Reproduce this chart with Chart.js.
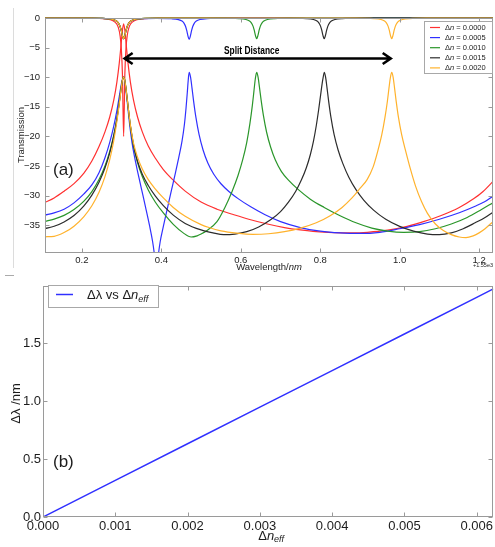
<!DOCTYPE html>
<html>
<head>
<meta charset="utf-8">
<script src="https://cdn.jsdelivr.net/npm/chart.js@4/dist/chart.umd.min.js"></script>
<style>
  html, body { margin: 0; padding: 0; background: #fff; }
  #wrap { position: relative; width: 495px; height: 547px; overflow: hidden; }
  #topChart { position: absolute; left: 0; top: 0; }
  #botChart { position: absolute; left: 0; top: 276px; }
  .edgeV { position: absolute; left: 13px; top: 8px; height: 260px; border-left: 1px solid #dcdcdc; }
  .edgeH { position: absolute; left: 5px; top: 275px; width: 9px; border-top: 1px solid #aaa; }
</style>
</head>
<body>
<div id="wrap">
  <div class="edgeV"></div>
  <div class="edgeH"></div>
  <canvas id="topChart" width="495" height="276"></canvas>
  <canvas id="botChart" width="495" height="271"></canvas>
</div>
<script>
// ---------- panel (a): transmission spectra, wavelength offset from 1550 nm ----------
const wlTicks = [0.2, 0.4, 0.6, 0.8, 1.0, 1.2];
const dBTicks = [0, -5, -10, -15, -20, -25, -30, -35];
const dnLabels = ['0.0000', '0.0005', '0.0010', '0.0015', '0.0020'];

// through port [wavelength, dB]
const thru0000 = [[0.107,-0.01],[0.215,-0.04],[0.260,-0.17],[0.278,-0.45],[0.287,-0.96],[0.2915,-1.58],[0.296,-2.97],[0.299,-5.03],[0.302,-9.6],[0.305,-20.0],[0.308,-9.6],[0.311,-5.03],[0.314,-2.97],[0.3185,-1.58],[0.323,-0.96],[0.332,-0.45],[0.350,-0.17],[0.395,-0.04],[1.235,-0.01]];
const thru0005 = [[0.107,-0.01],[0.215,-0.02],[0.260,-0.09],[0.278,-0.25],[0.287,-0.51],[0.2915,-0.81],[0.296,-1.41],[0.299,-2.10],[0.302,-2.99],[0.305,-3.50],[0.308,-2.99],[0.311,-2.10],[0.314,-1.41],[0.3185,-0.81],[0.323,-0.52],[0.332,-0.27],[0.350,-0.12],[0.3875,-0.06],[0.425,-0.12],[0.443,-0.27],[0.452,-0.52],[0.4565,-0.82],[0.461,-1.43],[0.464,-2.14],[0.467,-3.05],[0.470,-3.60],[0.473,-3.05],[0.476,-2.14],[0.479,-1.43],[0.4835,-0.82],[0.488,-0.52],[0.497,-0.26],[0.515,-0.09],[0.560,-0.02],[1.235,-0.01]];
const thru0010 = [[0.107,-0.01],[0.215,-0.02],[0.260,-0.09],[0.278,-0.25],[0.287,-0.51],[0.2915,-0.81],[0.296,-1.41],[0.299,-2.10],[0.302,-2.99],[0.305,-3.50],[0.308,-2.99],[0.311,-2.10],[0.314,-1.41],[0.3185,-0.81],[0.323,-0.51],[0.332,-0.25],[0.350,-0.09],[0.395,-0.02],[0.550,-0.02],[0.595,-0.09],[0.613,-0.25],[0.622,-0.51],[0.6265,-0.81],[0.631,-1.41],[0.634,-2.10],[0.637,-2.99],[0.640,-3.50],[0.643,-2.99],[0.646,-2.10],[0.649,-1.41],[0.6535,-0.81],[0.658,-0.51],[0.667,-0.25],[0.685,-0.09],[0.730,-0.02],[1.235,-0.01]];
const thru0015 = [[0.107,-0.01],[0.215,-0.02],[0.260,-0.09],[0.278,-0.25],[0.287,-0.51],[0.2915,-0.81],[0.296,-1.41],[0.299,-2.10],[0.302,-2.99],[0.305,-3.50],[0.308,-2.99],[0.311,-2.10],[0.314,-1.41],[0.3185,-0.81],[0.323,-0.51],[0.332,-0.25],[0.350,-0.09],[0.395,-0.02],[0.720,-0.02],[0.765,-0.09],[0.783,-0.25],[0.792,-0.51],[0.7965,-0.81],[0.801,-1.41],[0.804,-2.10],[0.807,-2.99],[0.810,-3.50],[0.813,-2.99],[0.816,-2.10],[0.819,-1.41],[0.8235,-0.81],[0.828,-0.51],[0.837,-0.25],[0.855,-0.09],[0.900,-0.02],[1.235,-0.01]];
const thru0020 = [[0.107,-0.01],[0.215,-0.02],[0.260,-0.09],[0.278,-0.25],[0.287,-0.51],[0.2915,-0.81],[0.296,-1.41],[0.299,-2.10],[0.302,-2.99],[0.305,-3.50],[0.308,-2.99],[0.311,-2.10],[0.314,-1.41],[0.3185,-0.81],[0.323,-0.51],[0.332,-0.25],[0.350,-0.09],[0.395,-0.02],[0.890,-0.02],[0.935,-0.09],[0.953,-0.25],[0.962,-0.51],[0.9665,-0.81],[0.971,-1.41],[0.974,-2.10],[0.977,-2.99],[0.980,-3.50],[0.983,-2.99],[0.986,-2.10],[0.989,-1.41],[0.9935,-0.81],[0.998,-0.51],[1.007,-0.25],[1.025,-0.09],[1.070,-0.02],[1.235,-0.01]];

// drop port [wavelength, dB]
const drop0000 = [[0.107,-31.17],[0.130,-30.40],[0.155,-29.26],[0.180,-27.98],[0.205,-26.20],[0.225,-24.16],[0.243,-21.72],[0.258,-19.24],[0.270,-16.73],[0.280,-13.92],[0.288,-10.82],[0.294,-7.62],[0.298,-4.90],[0.3015,-2.35],[0.305,-1.0],[0.3085,-2.35],[0.312,-4.90],[0.316,-7.62],[0.322,-10.82],[0.330,-13.92],[0.340,-16.73],[0.352,-19.24],[0.367,-21.62],[0.385,-23.7],[0.405,-25.6],[0.430,-27.4],[0.460,-29.25],[0.500,-31.1],[0.540,-32.3],[0.581,-33.2],[0.620,-34.0],[0.667,-34.8],[0.710,-35.4],[0.750,-35.8],[0.790,-36.1],[0.833,-36.25],[0.880,-36.3],[0.919,-36.2],[0.970,-35.85],[1.019,-35.2],[1.060,-34.4],[1.103,-33.4],[1.150,-32.0],[1.187,-30.5],[1.210,-29.3],[1.235,-27.6]];
const drop0005 = [[0.107,-33.30],[0.130,-32.93],[0.155,-32.30],[0.180,-31.23],[0.205,-29.71],[0.225,-28.20],[0.243,-26.13],[0.258,-23.61],[0.270,-21.01],[0.280,-18.31],[0.288,-15.65],[0.294,-13.26],[0.298,-11.62],[0.3015,-10.47],[0.305,-10.0],[0.3085,-10.9],[0.312,-12.9],[0.316,-15.4],[0.321,-18.5],[0.326,-21.0],[0.332,-23.3],[0.340,-25.9],[0.350,-28.9],[0.360,-31.9],[0.370,-35.0],[0.378,-37.8],[0.3835,-40.5],[0.3875,-43.0],[0.3915,-40.5],[0.397,-37.8],[0.405,-35.2],[0.415,-32.2],[0.425,-29.2],[0.435,-26.3],[0.444,-23.5],[0.452,-20.8],[0.458,-18.0],[0.462,-15.3],[0.4655,-12.4],[0.4675,-10.6],[0.470,-9.2],[0.4735,-10.0],[0.477,-11.77],[0.481,-13.95],[0.487,-16.8],[0.495,-19.72],[0.505,-22.3],[0.517,-24.5],[0.532,-26.4],[0.550,-28.0],[0.570,-29.3],[0.595,-30.6],[0.625,-31.9],[0.660,-33.2],[0.700,-34.4],[0.750,-35.4],[0.800,-36.0],[0.850,-36.3],[0.900,-36.4],[0.950,-36.2],[1.000,-35.6],[1.050,-34.9],[1.100,-34.0],[1.150,-32.9],[1.190,-31.8],[1.215,-31.0],[1.235,-30.1]];
const drop0010 = [[0.107,-34.36],[0.130,-33.98],[0.155,-33.35],[0.180,-32.37],[0.205,-30.94],[0.225,-29.32],[0.243,-27.29],[0.258,-25.0],[0.270,-22.54],[0.280,-19.85],[0.288,-16.99],[0.294,-14.27],[0.298,-12.25],[0.3015,-10.68],[0.305,-10.0],[0.3085,-10.78],[0.312,-12.55],[0.316,-14.87],[0.322,-18.29],[0.330,-21.65],[0.340,-24.44],[0.352,-26.79],[0.367,-29.04],[0.385,-31.12],[0.405,-32.94],[0.430,-34.87],[0.455,-36.3],[0.475,-37.0],[0.490,-36.8],[0.500,-36.5],[0.515,-35.9],[0.540,-34.4],[0.560,-32.0],[0.578,-29.3],[0.593,-26.6],[0.605,-23.9],[0.615,-21.0],[0.623,-17.8],[0.629,-14.8],[0.633,-12.4],[0.6365,-10.3],[0.640,-9.2],[0.6435,-10.0],[0.647,-11.7],[0.651,-13.8],[0.657,-16.5],[0.665,-19.3],[0.675,-21.8],[0.687,-24.0],[0.702,-25.9],[0.720,-27.4],[0.745,-29.0],[0.775,-30.6],[0.810,-32.0],[0.850,-33.4],[0.890,-34.6],[0.930,-35.5],[0.970,-36.0],[1.010,-36.2],[1.050,-36.1],[1.090,-35.6],[1.130,-34.8],[1.170,-33.7],[1.205,-32.4],[1.235,-31.2]];
const drop0015 = [[0.107,-35.56],[0.130,-35.18],[0.155,-34.45],[0.180,-33.37],[0.205,-31.74],[0.225,-29.92],[0.243,-27.74],[0.258,-25.35],[0.270,-22.79],[0.280,-20.0],[0.288,-17.09],[0.294,-14.27],[0.298,-12.25],[0.3015,-10.68],[0.305,-10.0],[0.3085,-10.78],[0.312,-12.55],[0.316,-14.87],[0.322,-18.19],[0.330,-21.5],[0.340,-24.2],[0.352,-26.4],[0.367,-28.3],[0.385,-30.1],[0.405,-31.7],[0.430,-33.3],[0.460,-34.7],[0.500,-35.8],[0.530,-36.3],[0.557,-36.6],[0.585,-36.5],[0.615,-36.1],[0.645,-35.3],[0.675,-34.1],[0.700,-32.7],[0.720,-31.1],[0.738,-29.3],[0.753,-27.3],[0.765,-25.3],[0.775,-23.1],[0.783,-20.8],[0.790,-18.2],[0.796,-15.5],[0.801,-13.0],[0.805,-11.0],[0.8075,-10.0],[0.810,-9.2],[0.8135,-10.0],[0.817,-11.77],[0.821,-13.95],[0.827,-16.8],[0.835,-19.72],[0.845,-22.3],[0.857,-24.6],[0.872,-26.9],[0.890,-29.0],[0.910,-30.8],[0.935,-32.5],[0.965,-34.0],[1.000,-35.2],[1.035,-36.0],[1.070,-36.5],[1.100,-36.6],[1.130,-36.3],[1.160,-35.6],[1.190,-34.6],[1.215,-33.7],[1.235,-32.8]];
const drop0020 = [[0.107,-36.96],[0.130,-36.88],[0.155,-36.25],[0.180,-35.17],[0.205,-33.54],[0.225,-31.72],[0.243,-29.44],[0.258,-26.8],[0.270,-23.94],[0.280,-20.75],[0.288,-17.49],[0.294,-14.52],[0.298,-12.35],[0.3015,-10.68],[0.305,-10.0],[0.3085,-10.78],[0.312,-12.55],[0.316,-14.87],[0.322,-18.1],[0.330,-21.2],[0.340,-23.5],[0.352,-25.5],[0.367,-27.3],[0.385,-28.9],[0.405,-30.4],[0.430,-32.0],[0.460,-33.5],[0.500,-34.9],[0.520,-35.4],[0.550,-35.95],[0.590,-36.35],[0.630,-36.55],[0.670,-36.45],[0.710,-36.1],[0.750,-35.5],[0.790,-34.6],[0.825,-33.4],[0.855,-32.0],[0.880,-30.4],[0.900,-28.8],[0.918,-27.3],[0.933,-25.2],[0.945,-22.45],[0.955,-19.72],[0.963,-16.8],[0.969,-14.1],[0.973,-11.9],[0.9765,-10.1],[0.980,-9.2],[0.9835,-10.0],[0.987,-11.77],[0.991,-13.95],[0.997,-16.8],[1.005,-19.72],[1.015,-22.45],[1.027,-25.5],[1.040,-28.4],[1.055,-31.0],[1.070,-33.0],[1.090,-34.8],[1.110,-35.9],[1.130,-36.6],[1.150,-37.0],[1.167,-37.1],[1.185,-36.8],[1.200,-36.3],[1.215,-35.6],[1.235,-34.4]];

// resonance split marked on panel (a)
const splitFrom = 0.305;
const splitTo = 0.980;
const splitLevel = -6.8;

// ---------- panel (b): resonance shift vs effective index change ----------
const dnEff = [0.0000, 0.0010, 0.0020, 0.0030, 0.0040, 0.0050, 0.0060, 0.00623];
const dLambda = [0.000, 0.316, 0.632, 0.948, 1.263, 1.579, 1.895, 1.968];
const dnEffTicks = [0.000, 0.001, 0.002, 0.003, 0.004, 0.005, 0.006];
const dLambdaTicks = [0.0, 0.5, 1.0, 1.5];

// ---------- styling ----------
const FAM = "'Liberation Sans', Arial, sans-serif";
const TXT = '#1c1c1c';
const SPINE = '#9a9a9a';
const seriesColors = ['#ff3030', '#3030ff', '#2a962a', '#2c2c2c', '#ffb22c'];

Chart.defaults.font.family = FAM;
Chart.defaults.color = TXT;

const toPts = arr => arr.map(p => ({ x: p[0], y: p[1] }));

function drawRuns(ctx, runs, x, y, align) {
  let total = 0;
  const w = runs.map(r => { ctx.font = r.f; const m = ctx.measureText(r.t).width; total += m; return m; });
  let cx = align === 'center' ? x - total / 2 : (align === 'right' ? x - total : x);
  runs.forEach((r, i) => { ctx.font = r.f; ctx.fillText(r.t, cx, y + (r.dy || 0)); cx += w[i]; });
}

// axis frame with inward tick marks on all four sides
const framePlugin = {
  id: 'frameTicks',
  afterDatasetsDraw(chart) {
    const { ctx, chartArea: a, scales } = chart;
    const L = Math.round(a.left) + 0.5, R = Math.round(a.right) - 0.5;
    const T = Math.round(a.top) + 0.5, B = Math.round(a.bottom) - 0.5;
    ctx.save();
    ctx.strokeStyle = SPINE;
    ctx.lineWidth = 1;
    ctx.strokeRect(L, T, R - L, B - T);
    ctx.beginPath();
    scales.x.ticks.forEach(t => {
      const px = Math.round(scales.x.getPixelForValue(t.value)) + 0.5;
      ctx.moveTo(px, B); ctx.lineTo(px, B - 4);
      ctx.moveTo(px, T); ctx.lineTo(px, T + 4);
    });
    scales.y.ticks.forEach(t => {
      const py = Math.round(scales.y.getPixelForValue(t.value)) + 0.5;
      ctx.moveTo(L, py); ctx.lineTo(L + 4, py);
      ctx.moveTo(R, py); ctx.lineTo(R - 4, py);
    });
    ctx.stroke();
    ctx.restore();
  }
};

const topDecor = {
  id: 'topDecor',
  afterDraw(chart) {
    const { ctx, chartArea: a, scales } = chart;
    const sx = scales.x, sy = scales.y;
    ctx.save();
    ctx.fillStyle = TXT;
    ctx.textBaseline = 'middle';

    // split-distance arrow
    const x1 = sx.getPixelForValue(splitFrom), x2 = sx.getPixelForValue(splitTo);
    const yy = Math.round(sy.getPixelForValue(splitLevel)) + 0.5;
    ctx.strokeStyle = '#000';
    ctx.lineWidth = 2.6;
    ctx.lineJoin = 'miter';
    ctx.beginPath();
    ctx.moveTo(x1 + 2, yy); ctx.lineTo(x2 - 2, yy);
    ctx.moveTo(x1 + 9, yy - 5.5); ctx.lineTo(x1 + 1, yy); ctx.lineTo(x1 + 9, yy + 5.5);
    ctx.moveTo(x2 - 9, yy - 5.5); ctx.lineTo(x2 - 1, yy); ctx.lineTo(x2 - 9, yy + 5.5);
    ctx.stroke();
    ctx.save();
    ctx.fillStyle = '#000';
    ctx.textAlign = 'center';
    ctx.textBaseline = 'alphabetic';
    ctx.font = 'bold 10px ' + FAM;
    ctx.translate((x1 + x2) / 2 - 6, yy - 4.5);
    ctx.scale(0.84, 1);
    ctx.fillText('Split Distance', 0, 0);
    ctx.restore();

    // legend
    ctx.textBaseline = 'middle';
    ctx.textAlign = 'left';
    ctx.fillStyle = '#fff';
    ctx.fillRect(424, 21, 69, 53);
    ctx.strokeStyle = '#a8a8a8';
    ctx.lineWidth = 1;
    ctx.strokeRect(424.5, 21.5, 68, 52);
    const f = '7.5px ' + FAM, fi = 'italic 7.5px ' + FAM;
    dnLabels.forEach((lab, i) => {
      const ry = 27.5 + i * 10.1;
      ctx.strokeStyle = seriesColors[i];
      ctx.lineWidth = 1.2;
      ctx.beginPath(); ctx.moveTo(430, ry); ctx.lineTo(440, ry); ctx.stroke();
      ctx.fillStyle = TXT;
      drawRuns(ctx, [{ t: '\u0394', f }, { t: 'n', f: fi }, { t: ' = ' + lab, f }], 445, ry, 'left');
    });

    // axis titles and labels
    ctx.fillStyle = TXT;
    ctx.textBaseline = 'middle';
    drawRuns(ctx, [{ t: 'Wavelength/', f: '9.5px ' + FAM }, { t: 'nm', f: 'italic 9.5px ' + FAM }], (a.left + a.right) / 2, 267, 'center');
    ctx.save();
    ctx.translate(21, (a.top + a.bottom) / 2 - 0.5);
    ctx.rotate(-Math.PI / 2);
    drawRuns(ctx, [{ t: 'Transmission', f: '9.5px ' + FAM }], 0, 0, 'center');
    ctx.restore();
    ctx.font = '5.5px ' + FAM;
    ctx.textAlign = 'right';
    ctx.fillText('+1.55e3', a.right, 265);
    ctx.textAlign = 'left';
    ctx.font = '17px ' + FAM;
    ctx.fillText('(a)', 53, 170);
    ctx.restore();
  }
};

const botDecor = {
  id: 'botDecor',
  afterDraw(chart) {
    const { ctx, chartArea: a } = chart;
    ctx.save();
    ctx.textBaseline = 'middle';
    const f = '13px ' + FAM, fi = 'italic 13px ' + FAM, fs = 'italic 9px ' + FAM;

    // legend
    ctx.fillStyle = '#fff';
    ctx.fillRect(48, 9, 111, 23);
    ctx.strokeStyle = '#a8a8a8';
    ctx.lineWidth = 1;
    ctx.strokeRect(48.5, 9.5, 110, 22);
    ctx.strokeStyle = '#3030ff';
    ctx.lineWidth = 1.5;
    ctx.beginPath(); ctx.moveTo(56, 18.5); ctx.lineTo(73, 18.5); ctx.stroke();
    ctx.fillStyle = TXT;
    drawRuns(ctx, [{ t: '\u0394\u03bb', f }, { t: ' vs ', f }, { t: '\u0394', f }, { t: 'n', f: fi }, { t: 'eff', f: fs, dy: 3.5 }], 87, 19.5, 'left');

    // axis titles
    drawRuns(ctx, [{ t: '\u0394', f }, { t: 'n', f: fi }, { t: 'eff', f: fs, dy: 3.5 }], (a.left + a.right) / 2 + 3, 260, 'center');
    ctx.save();
    ctx.translate(16, (a.top + a.bottom) / 2 + 2);
    ctx.rotate(-Math.PI / 2);
    drawRuns(ctx, [{ t: '\u0394\u03bb /nm', f }], 0, 0, 'center');
    ctx.restore();
    ctx.font = '17px ' + FAM;
    ctx.fillText('(b)', 53, 186);
    ctx.restore();
  }
};

function fixedTicks(values) {
  return axis => { axis.ticks = values.map(v => ({ value: v })); };
}

const topSets = [];
const thruSeries = [thru0000, thru0005, thru0010, thru0015, thru0020];
const dropSeries = [drop0000, drop0005, drop0010, drop0015, drop0020];
dnLabels.forEach((lab, i) => {
  [thruSeries[i], dropSeries[i]].forEach(series => {
    topSets.push({
      label: '\u0394n = ' + lab,
      data: toPts(series),
      borderColor: seriesColors[i],
      backgroundColor: seriesColors[i],
      borderWidth: 1.2,
      pointRadius: 0,
      pointHoverRadius: 0,
      fill: false,
      cubicInterpolationMode: 'monotone',
      order: 4 - i,
      clip: { left: 0, top: 2, right: 0, bottom: 0 }
    });
  });
});

new Chart(document.getElementById('topChart'), {
  type: 'line',
  data: { datasets: topSets },
  options: {
    responsive: false,
    animation: false,
    layout: { padding: { left: 0, top: 18, right: 2, bottom: 0 } },
    plugins: { legend: { display: false }, tooltip: { enabled: false } },
    events: [],
    scales: {
      x: {
        type: 'linear', min: 0.107, max: 1.235,
        afterBuildTicks: fixedTicks(wlTicks),
        afterFit: s => { s.height = 23; },
        grid: { display: false, drawTicks: false, tickLength: 0 },
        border: { display: false },
        ticks: { font: { size: 9.5 }, color: TXT, padding: 2, maxRotation: 0, autoSkip: false,
                 callback: v => v.toFixed(1) }
      },
      y: {
        type: 'linear', min: -39.7, max: 0,
        afterBuildTicks: fixedTicks(dBTicks),
        afterFit: s => { s.width = 45; },
        grid: { display: false, drawTicks: false, tickLength: 0 },
        border: { display: false },
        ticks: { font: { size: 9.5 }, color: TXT, padding: 5, autoSkip: false,
                 callback: v => (v === 0 ? '0' : '\u2212' + Math.abs(v)) }
      }
    }
  },
  plugins: [framePlugin, topDecor]
});

new Chart(document.getElementById('botChart'), {
  type: 'line',
  data: {
    datasets: [{
      label: '\u0394\u03bb vs \u0394n_eff',
      data: dnEff.map((x, i) => ({ x, y: dLambda[i] })),
      borderColor: '#3030ff',
      borderWidth: 1.5,
      pointRadius: 0,
      pointHoverRadius: 0,
      fill: false,
      tension: 0
    }]
  },
  options: {
    responsive: false,
    animation: false,
    layout: { padding: { left: 0, top: 3, right: 1, bottom: 0 } },
    plugins: { legend: { display: false }, tooltip: { enabled: false } },
    events: [],
    scales: {
      x: {
        type: 'linear', min: 0, max: 0.00623,
        afterBuildTicks: fixedTicks(dnEffTicks),
        afterFit: s => { s.height = 30; },
        grid: { display: false, drawTicks: false, tickLength: 0 },
        border: { display: false },
        ticks: { font: { size: 13 }, color: TXT, padding: 2, maxRotation: 0, autoSkip: false,
                 callback: v => v.toFixed(3) }
      },
      y: {
        type: 'linear', min: 0, max: 1.995,
        afterBuildTicks: fixedTicks(dLambdaTicks),
        afterFit: s => { s.width = 43; },
        grid: { display: false, drawTicks: false, tickLength: 0 },
        border: { display: false },
        ticks: { font: { size: 13 }, color: TXT, padding: 2, autoSkip: false,
                 callback: v => v.toFixed(1) }
      }
    }
  },
  plugins: [framePlugin, botDecor]
});
</script>
</body>
</html>
